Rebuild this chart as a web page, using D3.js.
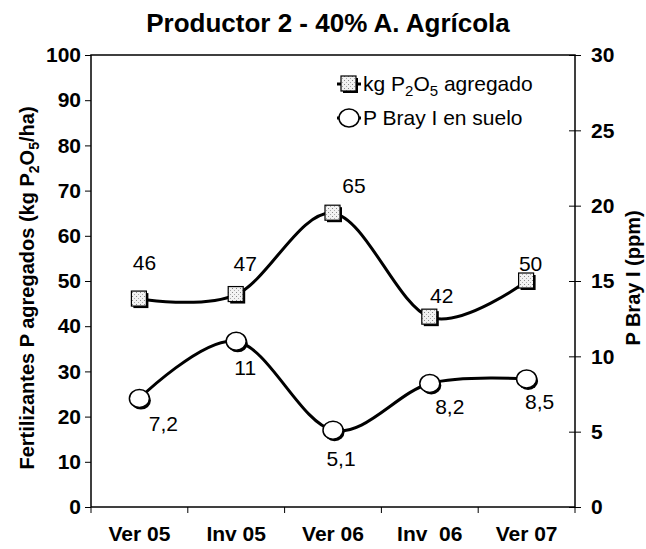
<!DOCTYPE html>
<html>
<head>
<meta charset="utf-8">
<script src="https://cdn.jsdelivr.net/npm/d3@7"></script>
<style>
  body { margin: 0; background: #fff; }
  svg { display: block; font-family: "Liberation Sans", Arial, sans-serif; }
</style>
</head>
<body>
<div id="chart"></div>
<script>
var categories = ["Ver 05", "Inv 05", "Ver 06", "Inv  06", "Ver 07"];
var kgP2O5 = [46, 47, 65, 42, 50];
var pBray = [7.2, 11, 5.1, 8.2, 8.5];
var kgLabels = ["46", "47", "65", "42", "50"];
var brayLabels = ["7,2", "11", "5,1", "8,2", "8,5"];
var leftTicks = [0, 10, 20, 30, 40, 50, 60, 70, 80, 90, 100];
var rightTicks = [0, 5, 10, 15, 20, 25, 30];

var width = 646, height = 549;
var plot = { left: 91, right: 575, top: 55, bottom: 507 };

var svg = d3.select("#chart").append("svg")
	.attr("width", width)
	.attr("height", height);

var defs = svg.append("defs");
var pat = defs.append("pattern")
	.attr("id", "stipple")
	.attr("width", 4)
	.attr("height", 4)
	.attr("patternUnits", "userSpaceOnUse");
pat.append("rect").attr("width", 4).attr("height", 4).attr("fill", "#f2f2f2");
pat.append("rect").attr("x", 0).attr("y", 0).attr("width", 1).attr("height", 1).attr("fill", "#888");
pat.append("rect").attr("x", 2).attr("y", 2).attr("width", 1).attr("height", 1).attr("fill", "#aaa");

var x = d3.scaleBand()
	.domain(categories)
	.range([plot.left, plot.right]);

var yLeft = d3.scaleLinear()
	.domain([0, 100])
	.range([plot.bottom, plot.top]);

var yRight = d3.scaleLinear()
	.domain([0, 30])
	.range([plot.bottom, plot.top]);

// frame
svg.append("rect")
	.attr("x", plot.left)
	.attr("y", plot.top)
	.attr("width", plot.right - plot.left)
	.attr("height", plot.bottom - plot.top)
	.attr("fill", "none")
	.attr("stroke", "#000")
	.attr("stroke-width", 1.5);

// left axis
var gl = svg.append("g")
	.attr("transform", "translate(" + plot.left + ",0)")
	.call(d3.axisLeft(yLeft).tickValues(leftTicks).tickSize(6).tickPadding(4));
gl.select(".domain").remove();
gl.selectAll("text")
	.style("font-size", "21px")
	.style("font-weight", "bold")
	.style("fill", "#000");

// right axis, ticks cross the line
var gr = svg.append("g")
	.attr("transform", "translate(" + plot.right + ",0)")
	.call(d3.axisRight(yRight).tickValues(rightTicks).tickSize(6).tickPadding(10));
gr.select(".domain").remove();
gr.selectAll(".tick line").attr("x1", -6);
gr.selectAll("text")
	.style("font-size", "21px")
	.style("font-weight", "bold")
	.style("fill", "#000");

// bottom axis: ticks at category boundaries
var boundaries = categories.map(function(c) { return x(c); }).concat([plot.right]);
svg.selectAll(".xtick")
	.data(boundaries)
	.enter().append("line")
	.attr("x1", function(d) { return d; })
	.attr("x2", function(d) { return d; })
	.attr("y1", plot.bottom)
	.attr("y2", plot.bottom + 6)
	.attr("stroke", "#000");

svg.selectAll(".xlabel")
	.data(categories)
	.enter().append("text")
	.attr("x", function(d) { return x(d) + x.bandwidth() / 2; })
	.attr("y", 541)
	.attr("text-anchor", "middle")
	.style("font-size", "21px")
	.style("font-weight", "bold")
	.style("white-space", "pre")
	.attr("xml:space", "preserve")
	.text(function(d) { return d; });

// title
svg.append("text")
	.attr("x", 328)
	.attr("y", 32)
	.attr("text-anchor", "middle")
	.style("font-size", "26px")
	.style("font-weight", "bold")
	.text("Productor 2 - 40% A. Agrícola");

// left axis title
var lt = svg.append("text")
	.attr("transform", "translate(34," + 288 + ") rotate(-90)")
	.attr("text-anchor", "middle")
	.style("font-size", "20px")
	.style("font-weight", "bold");
lt.append("tspan").text("Fertilizantes P agregados (kg P");
lt.append("tspan").attr("dy", 5).style("font-size", "14px").text("2");
lt.append("tspan").attr("dy", -5).text("O");
lt.append("tspan").attr("dy", 5).style("font-size", "14px").text("5");
lt.append("tspan").attr("dy", -5).text("/ha)");

// right axis title
svg.append("text")
	.attr("transform", "translate(640," + 278 + ") rotate(-90)")
	.attr("text-anchor", "middle")
	.style("font-size", "20px")
	.style("font-weight", "bold")
	.text("P Bray I (ppm)");

var cx = function(i) { return x(categories[i]) + x.bandwidth() / 2; };

var line = d3.line().curve(d3.curveCatmullRom.alpha(0));

var kgPts = kgP2O5.map(function(v, i) { return [cx(i), yLeft(v)]; });
var brayPts = pBray.map(function(v, i) { return [cx(i), yRight(v)]; });

svg.append("path")
	.attr("d", line(kgPts))
	.attr("fill", "none")
	.attr("stroke", "#000")
	.attr("stroke-width", 3);

svg.append("path")
	.attr("d", line(brayPts))
	.attr("fill", "none")
	.attr("stroke", "#000")
	.attr("stroke-width", 3);

function square(g, px, py) {
	g.append("rect")
		.attr("x", px - 6).attr("y", py - 6)
		.attr("width", 15).attr("height", 15)
		.attr("fill", "#000");
	g.append("rect")
		.attr("x", px - 8).attr("y", py - 8)
		.attr("width", 15).attr("height", 15)
		.attr("fill", "url(#stipple)")
		.attr("stroke", "#000")
		.attr("stroke-width", 1.2);
}

function circle(g, px, py) {
	g.append("ellipse")
		.attr("cx", px + 1.5).attr("cy", py + 2)
		.attr("rx", 10).attr("ry", 9)
		.attr("fill", "#000");
	g.append("ellipse")
		.attr("cx", px).attr("cy", py)
		.attr("rx", 10).attr("ry", 9)
		.attr("fill", "#fff")
		.attr("stroke", "#000")
		.attr("stroke-width", 1.5);
}

var markers = svg.append("g");
kgPts.forEach(function(p) { square(markers, p[0], p[1]); });
brayPts.forEach(function(p) { circle(markers, p[0], p[1]); });

// data labels (offsets relative to point)
var kgOff = [[5, -29], [9, -24], [21, -20], [12, -14], [4, -10]];
var brayOff = [[24, 32], [9, 34], [8, 36], [20, 31], [13, 30]];

svg.selectAll(".kglabel")
	.data(kgLabels)
	.enter().append("text")
	.attr("x", function(d, i) { return kgPts[i][0] + kgOff[i][0]; })
	.attr("y", function(d, i) { return kgPts[i][1] + kgOff[i][1]; })
	.attr("text-anchor", "middle")
	.style("font-size", "21px")
	.text(function(d) { return d; });

svg.selectAll(".braylabel")
	.data(brayLabels)
	.enter().append("text")
	.attr("x", function(d, i) { return brayPts[i][0] + brayOff[i][0]; })
	.attr("y", function(d, i) { return brayPts[i][1] + brayOff[i][1]; })
	.attr("text-anchor", "middle")
	.style("font-size", "21px")
	.text(function(d) { return d; });

// legend
var leg = svg.append("g");
[84, 118].forEach(function(ly, i) {
	leg.append("line")
		.attr("x1", 337).attr("x2", 361)
		.attr("y1", ly).attr("y2", ly)
		.attr("stroke", "#000")
		.attr("stroke-width", 3);
});
square(leg, 349, 84);
leg.append("ellipse")
	.attr("cx", 349).attr("cy", 118)
	.attr("rx", 10).attr("ry", 9)
	.attr("fill", "#fff")
	.attr("stroke", "#000")
	.attr("stroke-width", 1.5);

var l1 = leg.append("text")
	.attr("x", 363).attr("y", 91)
	.style("font-size", "21px");
l1.append("tspan").text("kg P");
l1.append("tspan").attr("dy", 5).style("font-size", "15px").text("2");
l1.append("tspan").attr("dy", -5).text("O");
l1.append("tspan").attr("dy", 5).style("font-size", "15px").text("5");
l1.append("tspan").attr("dy", -5).text(" agregado");

leg.append("text")
	.attr("x", 363).attr("y", 125)
	.style("font-size", "21px")
	.text("P Bray I en suelo");
</script>
</body>
</html>
